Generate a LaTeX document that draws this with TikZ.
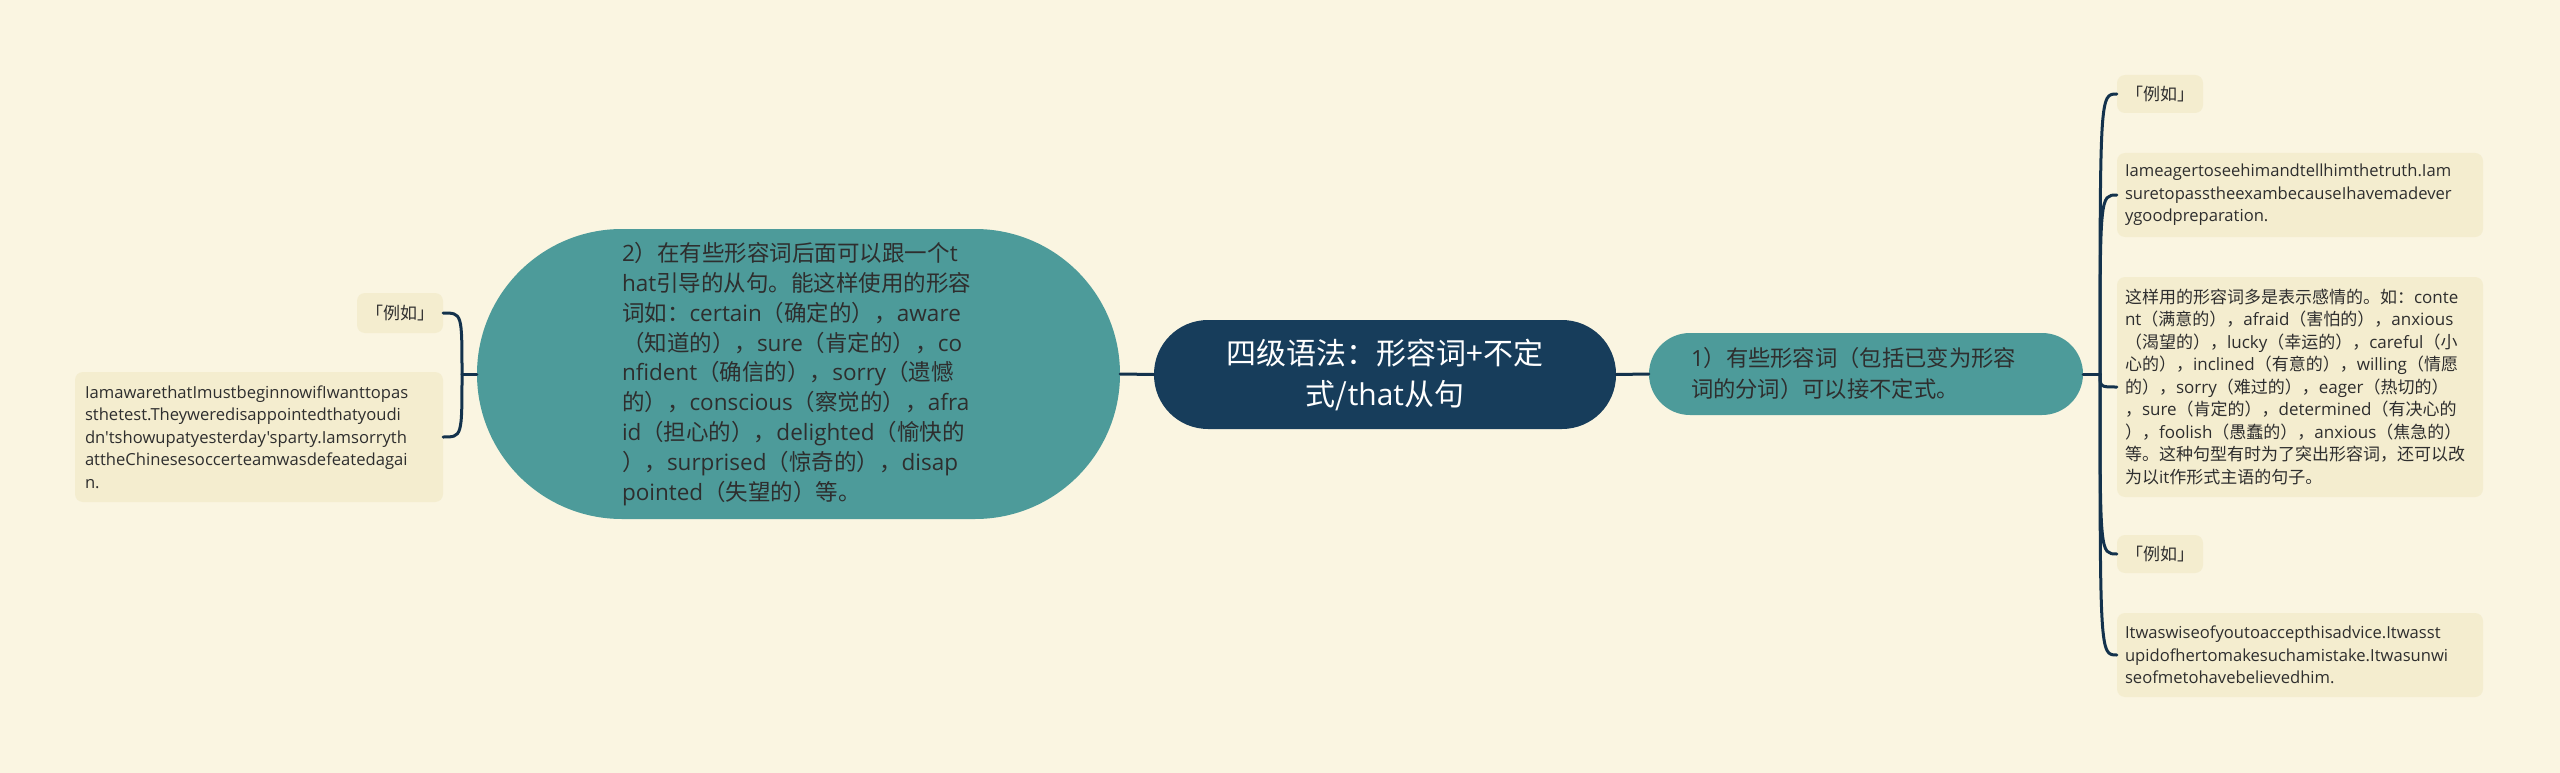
\documentclass[tikz,border=0pt]{standalone}
\usepackage{fontspec}
\newfontfamily\cjkfont{Noto Sans CJK SC}
\newfontfamily\enfont{Open Sans}
\newcommand\en[1]{{\enfont #1}}
\definecolor{bgc}{HTML}{FAF5E1}
\definecolor{navyc}{HTML}{173D5B}
\definecolor{tealc}{HTML}{4D9B9A}
\definecolor{boxc}{HTML}{F4EDCF}
\definecolor{txtc}{HTML}{2E2E2E}
\definecolor{linec}{HTML}{13324C}
\begin{document}
\begin{tikzpicture}[x=1pt,y=-1pt,
  central/.style={fill=navyc, rounded corners=54pt, minimum width=462pt, minimum height=109pt,
    inner sep=0pt, text=white, align=center, text width=400pt,
    font=\cjkfont\fontsize{30}{41}\selectfont},
  tealnode/.style={fill=tealc, inner sep=0pt, text=txtc, align=left},
  leafbox/.style={fill=boxc, rounded corners=8pt, inner sep=0pt, text=txtc, align=left,
    font=\cjkfont\fontsize{17}{22.5}\selectfont},
  sentbox/.style={leafbox, font=\enfont\fontsize{16.6}{22.5}\selectfont},
  conn/.style={draw=linec, line width=3pt, line cap=round}
]
\fill[bgc] (0,0) rectangle (2560,773);
\useasboundingbox (0,0) rectangle (2560,773);

% central
\node[central] (C) at (1385,374.5) {四级语法：形容词+不定\\式/\en{that}从句};

% right main branch
\node[tealnode, rounded corners=41pt, minimum width=434pt, minimum height=82pt, text width=350pt,
  font=\cjkfont\fontsize{22.3}{31}\selectfont] (R1) at (1866,374)
  {\en{1}）有些形容词（包括已变为形容\\词的分词）可以接不定式。};

% left main branch
\node[tealnode, rounded corners=145pt, minimum width=643pt, minimum height=290pt, text width=353pt,
  font=\cjkfont\fontsize{22.5}{29.8}\selectfont] (L1) at (798.5,374)
  {\en{2}）在有些形容词后面可以跟一个\en{t}\\
   \en{hat}引导的从句。能这样使用的形容\\
   词如：\en{certain}（确定的），\en{aware}\\
   （知道的），\en{sure}（肯定的），\en{co}\\
   \en{nfident}（确信的），\en{sorry}（遗憾\\
   的），\en{conscious}（察觉的），\en{afra}\\
   \en{id}（担心的），\en{delighted}（愉快的\\
   ），\en{surprised}（惊奇的），\en{disap}\\
   \en{pointed}（失望的）等。};

% right leaves
\node[leafbox, minimum width=86pt, minimum height=38pt, align=center] (RA) at (2160,94) {「例如」};
\node[sentbox, minimum width=366pt, minimum height=84pt, text width=350pt] (RB) at (2300,195)
  {Iameagertoseehimandtellhimthetruth.Iam\\suretopasstheexambecauseIhavemadever\\ygoodpreparation.};
\node[leafbox, minimum width=366pt, minimum height=220pt, text width=350pt] (RC) at (2300,387)
  {这样用的形容词多是表示感情的。如：\en{conte}\\
   \en{nt}（满意的），\en{afraid}（害怕的），\en{anxious}\\
   （渴望的），\en{lucky}（幸运的），\en{careful}（小\\
   心的），\en{inclined}（有意的），\en{willing}（情愿\\
   的），\en{sorry}（难过的），\en{eager}（热切的）\\
   ，\en{sure}（肯定的），\en{determined}（有决心的\\
   ），\en{foolish}（愚蠢的），\en{anxious}（焦急的）\\
   等。这种句型有时为了突出形容词，还可以改\\
   为以\en{it}作形式主语的句子。};
\node[leafbox, minimum width=86pt, minimum height=38pt, align=center] (RD) at (2160,554) {「例如」};
\node[sentbox, minimum width=366pt, minimum height=84pt, text width=350pt] (RE) at (2300,655)
  {Itwaswiseofyoutoaccepthisadvice.Itwasst\\upidofhertomakesuchamistake.Itwasunwi\\seofmetohavebelievedhim.};

% left leaves
\node[leafbox, minimum width=86pt, minimum height=40pt, align=center] (LA) at (400,313) {「例如」};
\node[sentbox, minimum width=368pt, minimum height=130pt, text width=348pt] (LB) at (259,437)
  {IamawarethatImustbeginnowifIwanttopas\\sthetest.Theyweredisappointedthatyoudi\\dn't\-showupatyesterday's\-party.Iamsorryth\\attheChinesesoccerteamwasdefeatedagai\\n.};

% connectors
\draw[conn] (C.west) -- (L1.east);
\draw[conn] (C.east) -- (R1.west);

\coordinate (jR) at (2100,374);
\draw[conn] (R1.east) -- (jR);
\foreach \c in {RA,RB,RC,RD,RE}{
  \draw[conn] (jR) .. controls (jR |- \c.west) and (jR |- \c.west) .. (\c.west);
}

\coordinate (jL) at (462,374);
\draw[conn] (L1.west) -- (jL);
\foreach \c in {LA,LB}{
  \draw[conn] (jL) .. controls (jL |- \c.east) and (jL |- \c.east) .. (\c.east);
}
\end{tikzpicture}
\end{document}
